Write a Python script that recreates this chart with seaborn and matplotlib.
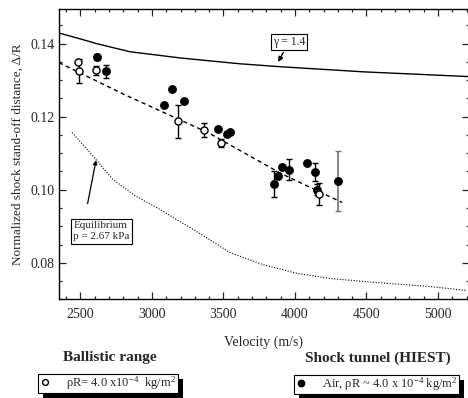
import numpy as np
import pandas as pd
import matplotlib
matplotlib.use("Agg")
from matplotlib import pyplot as plt
from matplotlib.lines import Line2D
from matplotlib.patches import Rectangle
from matplotlib.ticker import MultipleLocator
import seaborn as sns

# frozen flow, gamma = 1.4
gamma_v = [2343, 2500, 2615, 2846, 3196, 3615, 3895, 4475, 5210]
gamma_y = [0.1430, 0.1413, 0.1400, 0.1378, 0.1361, 0.1345, 0.1337, 0.1323, 0.1310]

# equilibrium, p = 2.67 kPa
eq_v = [2441, 2608, 2727, 2881, 3056, 3336, 3545, 3776, 4014, 4245, 4476, 4734, 4944, 5203]
eq_y = [0.1157, 0.1083, 0.1028, 0.0984, 0.0946, 0.0880, 0.0828, 0.0795, 0.0771,
        0.0757, 0.0749, 0.0741, 0.0735, 0.0724]

# fit through the data
fit_v = [2350, 2800, 3400, 3900, 4330]
fit_y = [0.1348, 0.1262, 0.1155, 0.1045, 0.0965]

# ballistic range (open)
br_v = [2485, 2492, 2606, 3184, 3364, 3483, 4168]
br_y = [0.1349, 0.1324, 0.1327, 0.1187, 0.1164, 0.1128, 0.0988]
br_err = [0.0, 0.0033, 0.0012, 0.0045, 0.0019, 0.0012, 0.0030]

# shock tunnel HIEST (filled)
st_v = [2617, 2676, 3086, 3138, 3226, 3459, 3525, 3545, 3855, 3879, 3907, 3958, 4086, 4142, 4156, 4299]
st_y = [0.1363, 0.1324, 0.1231, 0.1276, 0.1244, 0.1167, 0.1153, 0.1158, 0.1016, 0.1039,
        0.1062, 0.1055, 0.1073, 0.1048, 0.1000, 0.1023]
st_err = [0.0008, 0.0017, 0, 0, 0, 0, 0, 0, 0.0036, 0, 0, 0.0028, 0, 0.0025, 0.0015, 0.0082]

sns.set_style("ticks")
plt.rcParams['font.family'] = ['Liberation Serif', 'DejaVu Serif']
plt.rcParams['mathtext.fontset'] = 'custom'
plt.rcParams['mathtext.rm'] = 'Liberation Serif'
plt.rcParams['mathtext.it'] = 'Liberation Serif:italic'

fig = plt.figure(figsize=(4.68, 3.98), dpi=100)
ax = fig.add_axes([59/468, 1-299.3/398, (469-59)/468, (299.3-9)/398])

sns.lineplot(x=gamma_v, y=gamma_y, ax=ax, color='k', lw=1.0, sort=False)
sns.lineplot(x=eq_v, y=eq_y, ax=ax, color='k', lw=0.8, linestyle=(0, (1, 1.5)), sort=False)
sns.lineplot(x=fit_v, y=fit_y, ax=ax, color='k', lw=1.0, linestyle=(0, (3, 2.5)), sort=False)

# error bars
br = pd.DataFrame({'v': br_v, 'y': br_y, 'e': br_err})
st = pd.DataFrame({'v': st_v, 'y': st_y, 'e': st_err})
b = br[br.e > 0]
ax.errorbar(b.v, b.y, yerr=b.e, fmt='none', ecolor='k', elinewidth=1, capsize=2.5, capthick=1, zorder=2)
s = st[(st.e > 0) & (st.e < 0.008)]
ax.errorbar(s.v, s.y, yerr=s.e, fmt='none', ecolor='k', elinewidth=1, capsize=2.5, capthick=1, zorder=2)
s2 = st[st.e >= 0.008]
ax.errorbar(s2.v, s2.y, yerr=s2.e, fmt='none', ecolor='0.45', elinewidth=1.2, capsize=2.5, capthick=1, zorder=2)

sns.scatterplot(data=st, x='v', y='y', ax=ax, color='k', s=34, edgecolor='k', linewidth=0.5, zorder=4)
sns.scatterplot(data=br, x='v', y='y', ax=ax, color='white', s=26, edgecolor='k', linewidth=1.0, zorder=5)

ax.set_xlim(2350, 5217)
ax.set_ylim(0.07, 0.1495)
ax.xaxis.set_major_locator(MultipleLocator(500))
ax.xaxis.set_minor_locator(MultipleLocator(100))
ax.yaxis.set_major_locator(MultipleLocator(0.02))
ax.yaxis.set_minor_locator(MultipleLocator(0.005))
ax.yaxis.set_major_formatter(matplotlib.ticker.FormatStrFormatter('%.2f'))
ax.tick_params(which='both', direction='in', top=True, right=True, width=0.9, labelsize=10)
ax.tick_params(which='major', length=5, pad=3)
ax.tick_params(axis='x', which='major', pad=6)
ax.tick_params(which='minor', length=2.5)
for sp in ax.spines.values():
    sp.set_linewidth(1.0)
    sp.set_color('k')

ax.set_xlabel('Velocity (m/s)', fontsize=10, labelpad=11)
ax.set_ylabel('Normalized shock stand-off distance, Δ/R', fontsize=9.5, labelpad=5)

# annotations
ax.annotate('γ = 1.4', xy=(3883, 0.1350), xytext=(3958, 0.1405), fontsize=8.5,
            ha='center', va='center',
            bbox=dict(boxstyle='square,pad=0.15', fc='white', ec='k', lw=0.8),
            arrowprops=dict(arrowstyle='-|>', color='k', lw=1, mutation_scale=7, shrinkB=0))
ax.text(2450, 0.0886, 'Equilibrium\np = 2.67 kPa', fontsize=8, ha='left', va='center',
        linespacing=1.3,
        bbox=dict(boxstyle='square,pad=0.2', fc='white', ec='k', lw=0.8))
ax.annotate('', xy=(2609, 0.1081), xytext=(2550, 0.0962),
            arrowprops=dict(arrowstyle='-|>', color='k', lw=0.9, mutation_scale=6,
                            shrinkA=0, shrinkB=0))

# legends below the axes
fig.text(110/468, 1-358/398, 'Ballistic range', fontsize=11, fontweight='bold',
         ha='center', va='center')
fig.text(378/468, 1-358/398, 'Shock tunnel (HIEST)', fontsize=11, fontweight='bold',
         ha='center', va='center')

h1 = Line2D([], [], ls='none', marker='o', ms=4.2, mfc='white', mec='k', mew=1)
h2 = Line2D([], [], ls='none', marker='o', ms=4.6, mfc='k', mec='k')
leg_kw = dict(loc='upper left', fontsize=9, borderpad=0.05, handlelength=1.0,
              handletextpad=1.2, borderaxespad=0, fancybox=False, edgecolor='k',
              framealpha=1, frameon=True)
legs = [
    fig.legend([h1], [r'ρR= 4.0 x10$^{-4}$  kg/m$^2$ '],
               bbox_to_anchor=(38.3/468, 1-374/398), **leg_kw),
    fig.legend([h2], [r'Air, ρR ~ 4.0 x 10$^{-4}$ kg/m$^2$ '],
               bbox_to_anchor=(294/468, 1-375/398), **leg_kw),
]
for lg in legs:
    lg.get_frame().set_linewidth(0.8)

fig.canvas.draw()
inv = fig.transFigure.inverted()
for lg in legs:
    bb = lg.get_frame().get_window_extent()
    (x0, y0) = inv.transform((bb.x0 + 5, bb.y0 - 5))
    (x1, y1) = inv.transform((bb.x1 + 5, bb.y1 - 5))
    fig.patches.append(Rectangle((x0, y0), x1 - x0, y1 - y0, transform=fig.transFigure,
                                 facecolor='k', edgecolor='none', zorder=1, figure=fig))

fig.savefig('out.png', dpi=100)
